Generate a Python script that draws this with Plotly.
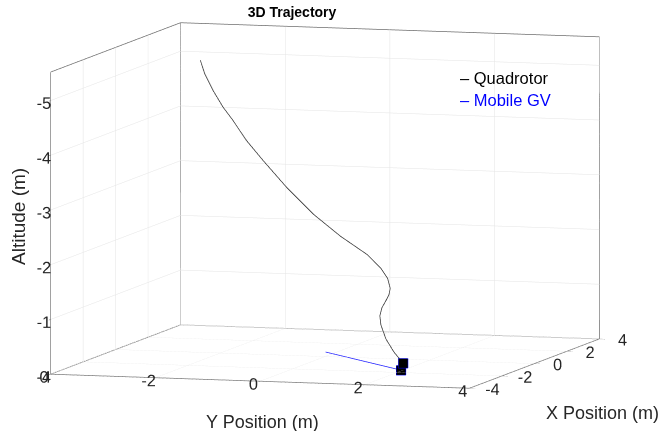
import plotly.graph_objects as go

# Quadrotor path (NED frame, altitude negative upwards)
quad_x = [-1.000, -1.052, -1.105, -1.157, -1.210, -1.262, -1.314, -1.367, -1.419, -1.471, -1.524,
          -1.576, -1.629, -1.681, -1.733, -1.786, -1.838, -1.890, -1.943, -1.995, -2.048, -2.100]
quad_y = [-2.071, -1.972, -1.796, -1.587, -1.379, -1.105, -0.769, -0.303, 0.225, 0.754, 1.284,
          1.556, 1.701, 1.767, 1.759, 1.717, 1.657, 1.634, 1.670, 1.782, 1.952, 2.142]
quad_z = [-5.460, -5.224, -4.929, -4.634, -4.402, -4.050, -3.699, -3.229, -2.763, -2.387, -2.073,
          -1.841, -1.668, -1.492, -1.382, -1.277, -1.152, -1.010, -0.852, -0.604, -0.376, -0.186]

# Mobile ground vehicle path (on the ground plane)
gv_x = [0.68, -1.64]
gv_y = [-0.20, 1.96]
gv_z = [0.0, 0.0]

x_ticks = [-4, -2, 0, 2, 4]
y_ticks = [-4, -2, 0, 2, 4]
z_ticks = [0, -1, -2, -3, -4, -5]
x_range = [-4, 4]
y_range = [-4, 4]
z_range = [-5.52, 0]

FONT = "Liberation Sans, Arial, Helvetica, sans-serif"
EYE = 3.0
SCALE = 2.215
PAD = "\u00a0\u00a0\u00a0"  # keeps the altitude labels clear of the vertical axis

# back edges of the axes box
x0, x1 = x_range
y0, y1 = y_range
zt, zb = z_range
segments = [
    ((x0, y0, zb), (x0, y1, zb)), ((x0, y1, zb), (x1, y1, zb)),
    ((x1, y1, zb), (x1, y0, zb)), ((x1, y0, zb), (x0, y0, zb)),
    ((x0, y0, zb), (x0, y0, zt)), ((x1, y0, zb), (x1, y0, zt)),
    ((x1, y1, zb), (x1, y1, zt)),
    ((x0, y0, zt), (x1, y0, zt)), ((x1, y0, zt), (x1, y1, zt)),
]
bx, by, bz = [], [], []
for a, b in segments:
    bx += [a[0], b[0], None]
    by += [a[1], b[1], None]
    bz += [a[2], b[2], None]

fig = go.Figure()
fig.add_trace(go.Scatter3d(x=bx, y=by, z=bz, mode="lines",
                           line=dict(color="#6e6e6e", width=1.5),
                           hoverinfo="skip", showlegend=False))
fig.add_trace(go.Scatter3d(x=quad_x, y=quad_y, z=quad_z, mode="lines",
                           line=dict(color="#333333", width=1.5),
                           name="Quadrotor", showlegend=False))
fig.add_trace(go.Scatter3d(x=gv_x, y=gv_y, z=gv_z, mode="lines",
                           line=dict(color="#2020ff", width=1.5),
                           name="Mobile GV", showlegend=False))
# vehicle bodies at the final positions
fig.add_trace(go.Scatter3d(x=[quad_x[-1], gv_x[-1]], y=[quad_y[-1], gv_y[-1]],
                           z=[quad_z[-1], gv_z[-1]], mode="markers",
                           marker=dict(symbol="square", size=5, color="black",
                                       line=dict(color="blue", width=1)),
                           hoverinfo="skip", showlegend=False))

def axis(rng, ticks, text=None):
    return dict(range=rng, tickvals=ticks,
                ticktext=text if text else [str(t) for t in ticks],
                showbackground=False, showgrid=True, gridcolor="#e4e4e4",
                gridwidth=1, zeroline=False, showline=False, ticks="inside",
                ticklen=6, tickcolor="#6e6e6e", showspikes=False, tickangle=0,
                title=dict(text=""),
                tickfont=dict(family=FONT, size=14, color="#262626"))

fig.update_layout(
    width=660, height=431,
    margin=dict(l=0, r=0, t=0, b=0),
    paper_bgcolor="white",
    font=dict(family=FONT, color="#262626"),
    title=dict(text="<b>3D Trajectory</b>", x=292 / 660, y=1 - 12 / 431,
               xanchor="center", yanchor="middle",
               font=dict(family=FONT, size=14, color="black")),
    scene=dict(
        xaxis=axis(x_range, x_ticks),
        yaxis=axis(y_range, y_ticks),
        zaxis=axis(z_range, z_ticks, [str(t) + PAD for t in z_ticks]),
        aspectmode="manual",
        aspectratio=dict(x=1.0 * SCALE, y=0.96 * SCALE, z=0.668 * SCALE),
        dragmode="orbit",
        camera=dict(projection=dict(type="orthographic"),
                    eye=dict(x=-0.9522 * EYE, y=0.2835 * EYE, z=-0.1131 * EYE),
                    up=dict(x=0, y=0, z=-1),
                    center=dict(x=0, y=0, z=0)),
        domain=dict(x=[0, 0.985], y=[0.046, 1]),
    ),
)

# axis titles and legend entries, placed by pixel position from the top-left corner
labels = [
    ("Y Position (m)", 262, 422, 0, 18, "#262626", "center"),
    ("X Position (m)", 602, 413, 0, 18, "#262626", "center"),
    ("Altitude (m)", 18, 217, -90, 19, "#262626", "center"),
    ("– Quadrotor", 458, 78, 0, 16.5, "black", "left"),
    ("– Mobile GV", 458, 100, 0, 16.5, "blue", "left"),
]
for text, px, py, ang, size, color, anchor in labels:
    fig.add_annotation(text=text, x=px / 660, y=1 - py / 431, xref="paper", yref="paper",
                       xanchor=anchor, yanchor="middle", textangle=ang, showarrow=False,
                       font=dict(family=FONT, size=size, color=color))

fig.write_html("out.html")
